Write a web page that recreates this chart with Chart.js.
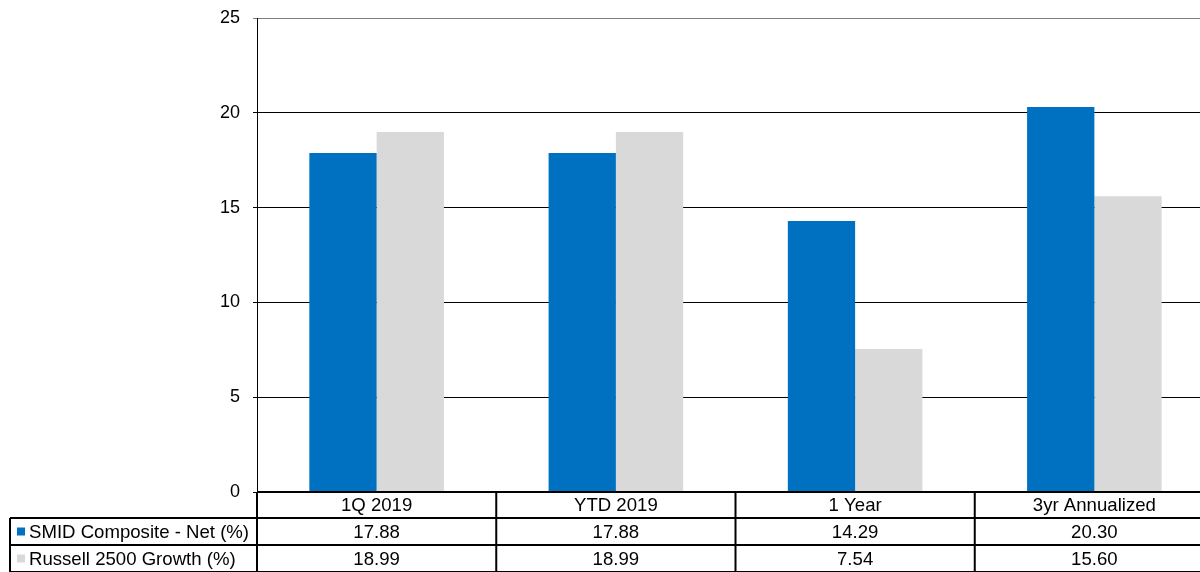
<!DOCTYPE html>
<html><head><meta charset="utf-8">
<script src="https://cdn.jsdelivr.net/npm/chart.js@4/dist/chart.umd.min.js"></script>
<style>html,body{margin:0;padding:0;background:#fff;overflow:hidden;width:1200px;height:572px}#wrap{position:relative;width:1220px;height:572px}</style>
</head><body><div id="wrap"><canvas id="c" width="1220" height="572"></canvas></div>
<script>
const categories = ["1Q 2019", "YTD 2019", "1 Year", "3yr Annualized"];
const seriesNames = ["SMID Composite - Net (%)", "Russell 2500 Growth (%)"];
const smidValues = [17.88, 17.88, 14.29, 20.30];
const russellValues = [18.99, 18.99, 7.54, 15.60];
const valueLabels = [["17.88","17.88","14.29","20.30"],["18.99","18.99","7.54","15.60"]];
const colors = ["#0070C0", "#D9D9D9"];
const FONT = "18.6px 'Liberation Sans', Arial, sans-serif";

const tablePlugin = {
  id: 'dataTable',
  afterDraw(chart) {
    const ctx = chart.ctx, x = chart.scales.x, area = chart.chartArea;
    const top = area.bottom, rowH = [26, 27, 27];
    const r1 = top + rowH[0], r2 = r1 + rowH[1], r3 = r2 + rowH[2];
    const right = area.right;
    const bounds = [];
    for (let i = 0; i <= categories.length; i++) {
      bounds.push(x.left + (x.right - x.left) * i / categories.length);
    }
    ctx.save();
    ctx.strokeStyle = '#000'; ctx.lineWidth = 2;
    ctx.beginPath();
    ctx.moveTo(area.left, top); ctx.lineTo(right, top);
    ctx.moveTo(10, r1); ctx.lineTo(right, r1);
    ctx.moveTo(10, r2); ctx.lineTo(right, r2);
    ctx.moveTo(10, r3); ctx.lineTo(right, r3);
    ctx.moveTo(10, r1); ctx.lineTo(10, r3);
    bounds.forEach(b => { ctx.moveTo(b, top); ctx.lineTo(b, r3); });
    ctx.stroke();
    ctx.fillStyle = '#000'; ctx.font = FONT; ctx.textAlign = 'center'; ctx.textBaseline = 'middle';
    categories.forEach((c, i) => {
      const cx = x.getPixelForValue(i);
      ctx.fillText(c, cx, (top + r1) / 2 + 1);
      ctx.fillText(valueLabels[0][i], cx, (r1 + r2) / 2 + 1);
      ctx.fillText(valueLabels[1][i], cx, (r2 + r3) / 2 + 1);
    });
    ctx.textAlign = 'left';
    [[r1, r2], [r2, r3]].forEach(([a, b], k) => {
      const mid = (a + b) / 2;
      ctx.fillStyle = colors[k];
      ctx.fillRect(17, mid - 4, 8, 8);
      ctx.fillStyle = '#000';
      ctx.fillText(seriesNames[k], 29, mid + 1);
    });
    ctx.restore();
  }
};

new Chart(document.getElementById('c'), {
  type: 'bar',
  data: {
    labels: categories,
    datasets: [
      { label: seriesNames[0], data: smidValues, backgroundColor: colors[0], borderWidth: 0 },
      { label: seriesNames[1], data: russellValues, backgroundColor: colors[1], borderWidth: 0 }
    ]
  },
  options: {
    responsive: false, animation: false,
    layout: { padding: { left: 0, top: 18, bottom: 80, right: 6 } },
    plugins: { legend: { display: false }, tooltip: { enabled: false } },
    datasets: { bar: { barPercentage: 1, categoryPercentage: 0.5625 } },
    scales: {
      x: { display: false },
      y: {
        min: 0, max: 25,
        ticks: { stepSize: 5, color: '#000', font: { family: "'Liberation Sans', Arial, sans-serif", size: 18 }, padding: 13 },
        grid: { color: ctx => ctx.tick && ctx.tick.value === 25 ? '#808080' : '#000', lineWidth: 1, tickLength: 4 },
        border: { color: '#000', width: 1 },
        afterFit: s => { s.width = 257; s.paddingTop = 0; s.paddingBottom = 0; }
      }
    }
  },
  plugins: [tablePlugin]
});
</script></body></html>
